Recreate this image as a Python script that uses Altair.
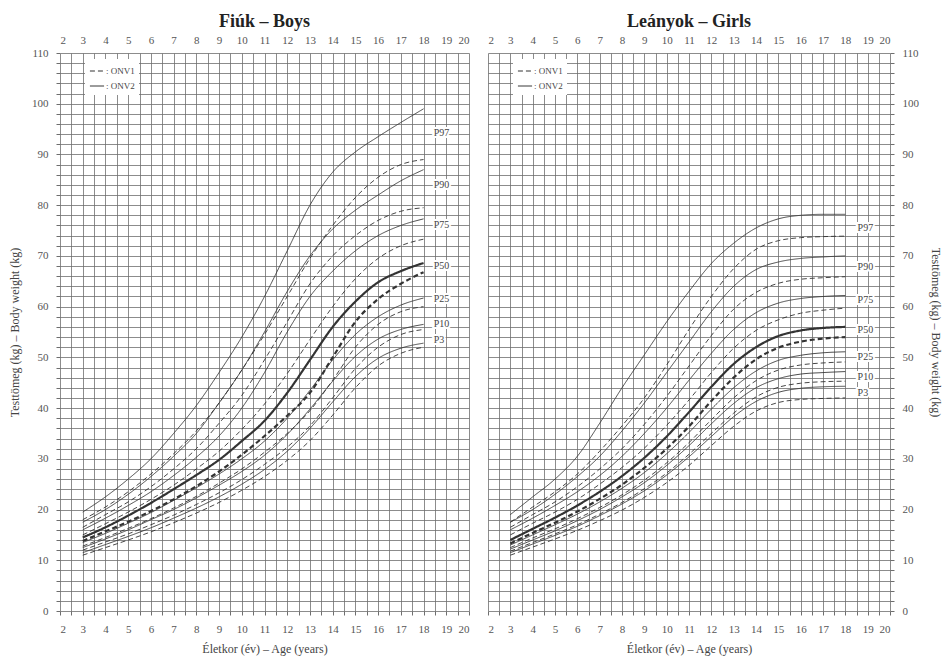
import altair as alt
import pandas as pd

ages = list(range(3, 19))
percentiles = ["P3", "P10", "P25", "P50", "P75", "P90", "P97"]

# Boys, ONV2 (solid)
boys_onv2 = {
    "P3":  [11.5, 13.1, 14.7, 16.4, 18.3, 20.3, 22.5, 25.0, 27.9, 31.5, 36.0, 41.2, 46.2, 49.8, 51.8, 52.8],
    "P10": [12.5, 14.2, 16.0, 18.0, 20.0, 22.3, 24.8, 27.5, 30.7, 34.8, 39.8, 45.3, 50.2, 53.6, 55.5, 56.5],
    "P25": [13.5, 15.3, 17.3, 19.4, 21.8, 24.3, 27.0, 30.0, 33.5, 38.0, 43.5, 49.5, 54.5, 58.0, 60.3, 61.7],
    "P50": [14.5, 16.5, 18.8, 21.3, 24.0, 26.8, 29.8, 33.5, 37.5, 43.0, 49.5, 56.0, 61.0, 64.8, 67.0, 68.6],
    "P75": [16.0, 18.3, 20.8, 23.5, 26.7, 30.3, 34.5, 40.0, 47.0, 55.0, 62.0, 67.0, 71.0, 74.0, 76.0, 77.3],
    "P90": [17.5, 20.0, 23.0, 26.5, 30.5, 35.0, 41.0, 47.5, 55.0, 63.0, 70.0, 75.3, 79.0, 82.0, 84.8, 87.0],
    "P97": [19.5, 22.5, 26.0, 30.0, 35.0, 40.5, 47.0, 54.0, 62.0, 71.0, 80.0, 86.5, 90.5, 93.5, 96.3, 99.0],
}
# Boys, ONV1 (dashed)
boys_onv1 = {
    "P3":  [11.0, 12.5, 14.0, 15.6, 17.4, 19.3, 21.4, 23.8, 26.5, 29.7, 33.6, 38.6, 44.0, 48.3, 50.8, 52.0],
    "P10": [12.0, 13.6, 15.2, 17.0, 18.9, 21.0, 23.3, 25.9, 28.9, 32.3, 36.5, 42.0, 47.8, 52.0, 54.5, 55.5],
    "P25": [12.8, 14.5, 16.3, 18.2, 20.3, 22.6, 25.2, 28.0, 31.3, 35.0, 39.5, 45.5, 52.0, 56.5, 59.0, 60.0],
    "P50": [13.8, 15.7, 17.6, 19.7, 22.0, 24.6, 27.5, 30.8, 34.5, 38.5, 43.0, 50.0, 57.0, 61.5, 64.5, 66.8],
    "P75": [15.0, 17.2, 19.5, 22.0, 24.8, 28.0, 31.5, 35.8, 40.8, 46.8, 53.5, 60.0, 65.5, 69.5, 72.0, 73.3],
    "P90": [16.5, 19.0, 21.5, 24.5, 28.0, 32.0, 37.0, 42.5, 49.5, 57.0, 64.5, 70.0, 74.0, 77.0, 78.8, 79.5],
    "P97": [18.0, 20.5, 23.5, 27.0, 31.0, 35.5, 41.0, 47.5, 54.5, 62.0, 69.5, 76.0, 81.5, 85.5, 88.0, 89.0],
}
# Girls, ONV2 (solid)
girls_onv2 = {
    "P3":  [11.5, 13.2, 14.9, 16.7, 18.8, 21.1, 23.7, 26.8, 30.4, 34.4, 38.3, 41.3, 43.1, 43.9, 44.2, 44.3],
    "P10": [12.2, 14.0, 15.8, 17.8, 20.0, 22.5, 25.3, 28.7, 32.6, 36.9, 40.9, 44.0, 45.8, 46.7, 47.0, 47.2],
    "P25": [13.0, 15.0, 17.0, 19.1, 21.5, 24.2, 27.3, 31.0, 35.2, 39.8, 44.0, 47.3, 49.4, 50.4, 50.9, 51.1],
    "P50": [14.0, 16.2, 18.4, 20.8, 23.5, 26.6, 30.2, 34.4, 39.2, 44.2, 48.7, 52.0, 54.2, 55.3, 55.8, 56.0],
    "P75": [16.0, 18.3, 20.8, 23.5, 26.7, 30.5, 35.0, 40.0, 45.5, 50.8, 55.5, 58.8, 60.7, 61.6, 62.0, 62.2],
    "P90": [17.5, 20.0, 23.0, 26.5, 30.5, 35.5, 41.0, 47.0, 53.0, 59.0, 64.0, 67.3, 68.8, 69.5, 69.8, 70.0],
    "P97": [19.0, 22.5, 26.0, 30.5, 37.0, 44.0, 50.5, 57.0, 63.0, 68.5, 72.5, 75.5, 77.3, 78.0, 78.2, 78.2],
}
# Girls, ONV1 (dashed)
girls_onv1 = {
    "P3":  [11.0, 12.6, 14.2, 15.9, 17.8, 19.9, 22.4, 25.3, 28.7, 32.6, 36.4, 39.4, 41.1, 41.7, 41.9, 42.0],
    "P10": [11.8, 13.5, 15.2, 17.0, 19.1, 21.4, 24.1, 27.2, 30.9, 35.0, 39.0, 42.2, 44.1, 44.9, 45.2, 45.3],
    "P25": [12.5, 14.4, 16.2, 18.2, 20.4, 22.9, 25.8, 29.2, 33.2, 37.7, 42.0, 45.4, 47.5, 48.5, 48.9, 49.1],
    "P50": [13.3, 15.4, 17.4, 19.6, 22.1, 24.9, 28.2, 32.0, 36.4, 41.4, 46.0, 49.6, 51.9, 53.1, 53.7, 54.0],
    "P75": [15.0, 17.3, 19.5, 22.0, 25.0, 28.3, 32.1, 36.6, 41.6, 47.0, 51.8, 55.3, 57.4, 58.7, 59.3, 59.7],
    "P90": [16.5, 19.0, 21.5, 24.5, 28.0, 32.0, 36.8, 42.3, 48.3, 54.3, 59.5, 62.8, 64.6, 65.4, 65.7, 65.9],
    "P97": [17.5, 20.5, 23.5, 27.0, 31.5, 36.5, 42.0, 48.5, 55.5, 62.0, 67.5, 71.3, 73.0, 73.6, 73.8, 73.9],
}

# Percentile label anchors (kg) at the right end of each panel
boys_label_kg = [53.4, 56.6, 61.5, 68.0, 76.0, 84.0, 94.2]
girls_label_kg = [43.0, 46.1, 50.0, 55.4, 61.3, 67.8, 75.5]
boys_label_age = 18.45
girls_label_age = 18.55

x_ticks = list(range(2, 21))
x_grid = [2 + 0.5 * i for i in range(37)]
y_grid = list(range(0, 111, 2))

rows = []
for sex, srcs in (("boys", (("ONV1", boys_onv1), ("ONV2", boys_onv2))),
                  ("girls", (("ONV1", girls_onv1), ("ONV2", girls_onv2)))):
    for src, table in srcs:
        for p in percentiles:
            for a, v in zip(ages, table[p]):
                rows.append({"sex": sex, "source": src, "pct": p, "age": a, "kg": v,
                             "w": 2.2 if p == "P50" else 0.9})
df = pd.DataFrame(rows)

lab_rows = []
for p, k in zip(percentiles, boys_label_kg):
    lab_rows.append({"sex": "boys", "pct": p, "age": boys_label_age, "kg": k})
for p, k in zip(percentiles, girls_label_kg):
    lab_rows.append({"sex": "girls", "pct": p, "age": girls_label_age, "kg": k})
labels = pd.DataFrame(lab_rows)

FONT = "Liberation Serif"
GRID = "#6e6e6e"
INK = "#333333"
xs = alt.Scale(domain=[2, 20], nice=False, zero=False)
ys = alt.Scale(domain=[0, 110], nice=False)
YT = "Testtömeg (kg) – Body weight (kg)"


def panel(sex, title, y_orient, width, legend_x):
    y_axis = alt.Axis(orient=y_orient, values=y_grid,
                      labelExpr="datum.value % 10 === 0 ? format(datum.value, 'd') : ''",
                      labelOverlap=False,
                      grid=True, gridColor=GRID, gridWidth=0.8, domain=False,
                      tickColor=GRID, tickSize=4, labelPadding=8,
                      labelColor="#555", labelFont=FONT, labelFontSize=11,
                      title=YT, titleFont=FONT, titleFontSize=12, titleFontWeight="normal",
                      titleColor="#444", titlePadding=10,
                      titleAngle=270 if y_orient == "left" else 90)
    d = df[df["sex"] == sex]
    lines = alt.Chart(d).mark_line(interpolate="monotone", color=INK).encode(
        x=alt.X("age:Q", scale=xs,
                axis=alt.Axis(orient="bottom", values=x_grid,
                              labelExpr="datum.value % 1 === 0 ? format(datum.value, 'd') : ''",
                              labelOverlap=False,
                              grid=True, gridColor=GRID, gridWidth=0.8, domain=False,
                              tickColor=GRID, tickSize=4, labelPadding=8,
                              labelColor="#555", labelFont=FONT, labelFontSize=11,
                              title="Életkor (év) – Age (years)", titleFont=FONT,
                              titleFontSize=12, titleFontWeight="normal",
                              titleColor="#444", titlePadding=9)),
        y=alt.Y("kg:Q", scale=ys, axis=y_axis),
        strokeDash=alt.StrokeDash(
            "source:N",
            scale=alt.Scale(domain=["ONV1", "ONV2"], range=[[5, 3], [1, 0]]),
            legend=alt.Legend(title=None, orient="none", legendX=legend_x, legendY=6,
                              fillColor="white", padding=4, symbolType="stroke",
                              symbolStrokeColor=INK, symbolStrokeWidth=1, symbolSize=200,
                              labelExpr="': ' + datum.label",
                              labelFont=FONT, labelFontSize=9, labelColor="#444",
                              rowPadding=2, labelOffset=1)),
        strokeWidth=alt.StrokeWidth("w:Q", scale=None),
        detail="pct:N",
    )
    ld = labels[labels["sex"] == sex]
    halo = alt.Chart(ld).mark_text(align="left", baseline="middle", font=FONT, fontSize=10,
                                   color="white", stroke="white", strokeWidth=4).encode(
        x=alt.X("age:Q", scale=xs,
                axis=alt.Axis(orient="top", values=x_ticks, grid=False, domain=False,
                              ticks=False, labelPadding=8, labelColor="#555",
                              labelOverlap=False,
                              labelFont=FONT, labelFontSize=11, title=None)),
        y=alt.Y("kg:Q", scale=ys, axis=y_axis),
        text="pct:N",
    )
    txt = alt.Chart(ld).mark_text(align="left", baseline="middle", font=FONT, fontSize=10,
                                  color="#444").encode(
        x=alt.X("age:Q", scale=xs, axis=None),
        y=alt.Y("kg:Q", scale=ys, axis=y_axis),
        text="pct:N",
    )
    return alt.layer(lines, halo, txt).resolve_axis(x="independent").properties(
        width=width, height=558,
        title=alt.TitleParams(title, font=FONT, fontSize=18, fontWeight="bold",
                              color="#222", offset=3, anchor="middle"),
    )


left = panel("boys", "Fiúk – Boys", "left", 409, 25)
right = panel("girls", "Leányok – Girls", "right", 402, 25)

chart = alt.hconcat(left, right, spacing=17).resolve_legend(
    strokeDash="independent"
).properties(padding={"left": 0, "top": 5, "right": 0, "bottom": 2}).configure_view(
    stroke=None
)

chart.save("out.html", embed_options={"renderer": "svg", "actions": False})
